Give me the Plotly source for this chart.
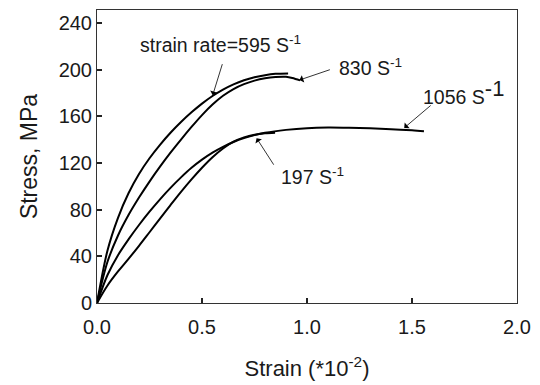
import plotly.graph_objects as go

# Strain (*10^-2) and stress (MPa)
x_595 = [0, 0.05, 0.10, 0.15, 0.20, 0.25, 0.30, 0.35, 0.40, 0.45, 0.50, 0.55, 0.60, 0.65, 0.70, 0.75, 0.80, 0.85, 0.91]
y_595 = [0, 45, 73, 94, 110.5, 124, 135.5, 145.8, 155, 163.3, 170.8, 177.3, 182.8, 187.3, 190.8, 193.4, 195.2, 196.3, 196.6]

x_830 = [0, 0.05, 0.10, 0.15, 0.20, 0.25, 0.30, 0.35, 0.40, 0.45, 0.50, 0.55, 0.60, 0.65, 0.70, 0.75, 0.80, 0.85, 0.90, 0.93, 0.967]
y_830 = [0, 35.3, 57.8, 75.3, 90.3, 104, 116.8, 128.8, 140, 150.8, 161, 170, 177.5, 183.3, 187.5, 190.5, 192.5, 193.6, 193.8, 192.8, 190.7]

x_1056 = [0, 0.05, 0.10, 0.15, 0.20, 0.25, 0.30, 0.35, 0.40, 0.45, 0.50, 0.55, 0.60, 0.65, 0.70, 0.75, 0.80, 0.90, 1.00, 1.10, 1.20, 1.30, 1.40, 1.50, 1.557]
y_1056 = [0, 24, 41, 54.5, 66.8, 78.2, 88.8, 98.6, 107.6, 115.8, 122.8, 128.8, 133.8, 137.9, 141.2, 143.8, 145.8, 148.3, 149.8, 150.3, 150.1, 149.6, 148.9, 147.9, 147.1]

x_197 = [0, 0.05, 0.10, 0.15, 0.20, 0.25, 0.30, 0.35, 0.40, 0.45, 0.50, 0.55, 0.60, 0.65, 0.70, 0.75, 0.80, 0.848]
y_197 = [0, 15, 27, 37.8, 49, 60.6, 72.3, 83.9, 95.2, 105.9, 115.9, 124.9, 132.4, 138.2, 141.9, 144.2, 145.4, 145.9]

x_ticks = [0.0, 0.5, 1.0, 1.5, 2.0]
y_ticks = [0, 40, 80, 120, 160, 200, 240]

FONT = "Liberation Sans, Arial, sans-serif"
TXT = "#1a1a1a"

fig = go.Figure()
for xs, ys in [(x_595, y_595), (x_830, y_830), (x_1056, y_1056), (x_197, y_197)]:
    fig.add_trace(go.Scatter(x=xs, y=ys, mode="lines",
                             line=dict(color="black", width=2, shape="spline", smoothing=0.9),
                             showlegend=False, hoverinfo="skip"))

# arrows (tail -> head) in data coordinates
arrows = [
    ((0.599, 205.9), (0.551, 178.0)),
    ((1.116, 200.3), (0.964, 191.0)),
    ((1.596, 170.3), (1.463, 150.0)),
    ((0.846, 117.2), (0.760, 141.2)),
]
for (tx, ty), (hx, hy) in arrows:
    fig.add_annotation(x=hx, y=hy, ax=tx, ay=ty, xref="x", yref="y", axref="x", ayref="y",
                       text="", showarrow=True, arrowhead=1, arrowsize=1.6, arrowwidth=0.8,
                       arrowcolor="black")

labels = [
    (0.589, 221.7, "center", "strain rate=595 S<sup>-1</sup>"),
    (1.145, 202.0, "left", "830 S<sup>-1</sup>"),
    (1.544, 180.5, "left", "1056 S<sup><span style='font-size:22px'>-1</span></sup>"),
    (0.869, 108.6, "left", "197 S<sup>-1</sup>"),
]
for lx, ly, anc, txt in labels:
    fig.add_annotation(x=lx, y=ly, xref="x", yref="y", text=txt, showarrow=False,
                       xanchor=anc, yanchor="middle",
                       font=dict(family=FONT, size=19.5, color=TXT))

axis_common = dict(showline=True, linecolor="#333333", linewidth=1, mirror=True,
                   ticks="inside", ticklen=5, tickwidth=1.5, tickcolor="#222222",
                   showgrid=False, zeroline=False,
                   tickfont=dict(family=FONT, size=20, color=TXT))

fig.update_xaxes(range=[0, 2.0], tickvals=x_ticks, ticktext=[f"{v:.1f}" for v in x_ticks],
                 ticklabelstandoff=6,
                 title=dict(text="Strain (*10<sup>-2</sup>)", font=dict(family=FONT, size=22, color=TXT),
                            standoff=23),
                 **axis_common)
fig.update_yaxes(range=[0, 251], tickvals=y_ticks, ticktext=[str(v) for v in y_ticks],
                 title=dict(text="Stress, MPa", font=dict(family=FONT, size=23, color=TXT),
                            standoff=14),
                 **axis_common)

# page body has an 8px margin, so shrink the figure to keep the plot box where the reference has it
fig.update_layout(width=532, height=377, margin=dict(l=89, r=23, t=2, b=82),
                  plot_bgcolor="white", paper_bgcolor="white",
                  font=dict(family=FONT, color=TXT))

fig.write_html("out.html")
